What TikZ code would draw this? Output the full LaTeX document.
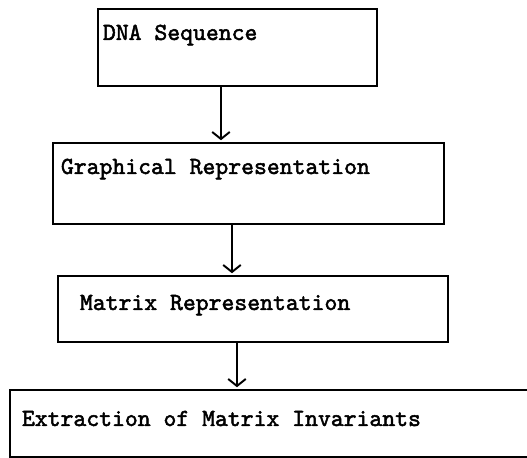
\documentclass[tikz,border=0pt]{standalone}
\usepackage{fontspec}
\newfontfamily\stagefont{lmmono10-regular.otf}[FakeBold=2]
\usepackage{tikz}
\usetikzlibrary{positioning, arrows.meta, calc}

\begin{document}
\begin{tikzpicture}[
        % Style for the boxes of the pipeline
        stage/.style={
            draw,
            line width=1.1pt,
            anchor=north west,
            align=flush left,
            font=\fontsize{13.95}{16}\selectfont\stagefont
        },
        % Style for the arrows between boxes
        flow/.style={
            -{Straight Barb[length=4pt, width=10pt]},
            line width=1.1pt,
            shorten >=1pt
        }
    ]

    % fix the page size
    \clip (0,0) rectangle (10.54,-9.16);

    % ==========================================
    % BOXES
    % ==========================================
    \node[stage, inner xsep=0.10cm, inner ysep=0pt, text width=5.38cm,
          text height=0.62cm, text depth=0.92cm] (dna) at (1.94,-0.16) {DNA Sequence};
    \node[stage, inner xsep=0.16cm, inner ysep=0pt, text width=7.50cm,
          text height=0.62cm, text depth=1.00cm] (graph) at (1.04,-2.84) {Graphical Representation};
    \node[stage, inner xsep=0.44cm, inner ysep=0pt, text width=6.92cm,
          text height=0.68cm, text depth=0.64cm] (matrix) at (1.14,-5.50) {Matrix Representation};
    \node[stage, inner xsep=0.24cm, inner ysep=0pt, text width=10.14cm,
          text height=0.72cm, text depth=0.62cm] (invar) at (0.18,-7.78) {Extraction of Matrix Invariants};

    % ==========================================
    % ARROWS
    % ==========================================
    \draw[flow] ([xshift=-0.33cm]dna.south) -- ([xshift=-0.33cm]dna.south |- graph.north);
    \draw[flow] ([xshift=-0.33cm]graph.south) -- ([xshift=-0.33cm]graph.south |- matrix.north);
    \draw[flow] ([xshift=-0.32cm]matrix.south) -- ([xshift=-0.32cm]matrix.south |- invar.north);

\end{tikzpicture}
\end{document}
